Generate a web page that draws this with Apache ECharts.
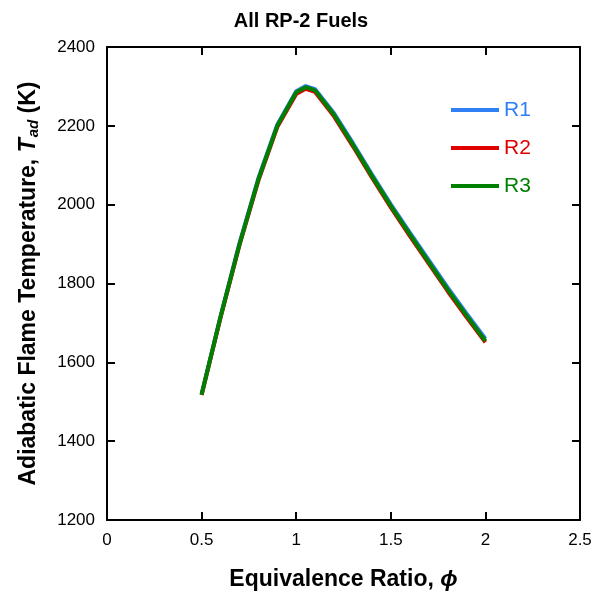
<!DOCTYPE html>
<html>
<head>
<meta charset="utf-8">
<script src="https://cdn.jsdelivr.net/npm/echarts@6/dist/echarts.min.js"></script>
<style>
  html, body { margin: 0; padding: 0; background: #fff; }
  #chart { width: 602px; height: 596px; }
</style>
</head>
<body>
<div id="chart"></div>
<script>
// equivalence ratio, phi
var phi = [0.5, 0.6, 0.7, 0.8, 0.9, 1.0, 1.05, 1.1, 1.2, 1.3, 1.4, 1.5, 1.6, 1.7, 1.8, 1.9, 2.0];
// adiabatic flame temperature (K)
var r1 = [1520, 1717, 1902, 2067, 2203, 2288, 2301, 2293, 2232, 2156, 2077, 2001, 1930, 1860, 1790, 1724, 1660];
var r2 = [1517, 1713, 1897, 2061, 2197, 2281, 2294, 2286, 2224, 2148, 2069, 1993, 1921, 1851, 1781, 1715, 1651];
var r3 = [1518, 1715, 1899, 2064, 2200, 2285, 2298, 2290, 2228, 2152, 2073, 1997, 1925, 1855, 1785, 1719, 1654];
var xTicks = [0, 0.5, 1, 1.5, 2, 2.5];
var yTicks = [1200, 1400, 1600, 1800, 2000, 2200, 2400];

var colors = { R1: '#2f80f5', R2: '#e00000', R3: '#008000' };
var font = 'Liberation Sans';

function pairs(xs, ys) {
  var out = [];
  for (var i = 0; i < xs.length; i++) out.push([xs[i], ys[i]]);
  return out;
}

function xLabel(v) {
  return xTicks.indexOf(v) >= 0 ? String(v) : '';
}
function yLabel(v) {
  return yTicks.indexOf(v) >= 0 ? String(v) : '';
}

function frameLine() {
  return { show: true, onZero: false, lineStyle: { color: '#000', width: 2 } };
}
function frameTick() {
  return { show: true, inside: true, length: 8, lineStyle: { color: '#000', width: 2 } };
}

var chart = echarts.init(document.getElementById('chart'));

chart.setOption({
  animation: false,
  title: {
    text: 'All RP-2 Fuels',
    left: 296,
    textAlign: 'center',
    top: 6,
    textStyle: { fontFamily: font, fontSize: 20, fontWeight: 'bold', color: '#000' }
  },
  legend: {
    orient: 'vertical',
    left: 446,
    top: 93,
    itemWidth: 48,
    itemHeight: 4,
    itemGap: 14,
    icon: 'rect',
    textStyle: { fontFamily: font, fontSize: 21, lineHeight: 24 },
    data: [
      { name: 'R1', textStyle: { color: colors.R1 } },
      { name: 'R2', textStyle: { color: colors.R2 } },
      { name: 'R3', textStyle: { color: colors.R3 } }
    ]
  },
  grid: { left: 107, right: 22, top: 47, bottom: 75 },
  xAxis: [
    {
      type: 'value',
      min: 0,
      max: 2.5,
      interval: 0.5,
      name: 'Equivalence Ratio, {i|ϕ}',
      nameLocation: 'middle',
      nameGap: 48,
      nameTextStyle: {
        fontFamily: font, fontSize: 23, fontWeight: 'bold', color: '#000',
        rich: { i: { fontFamily: font, fontSize: 23, fontWeight: 'bold', fontStyle: 'italic', color: '#000' } }
      },
      axisLine: frameLine(),
      axisTick: frameTick(),
      splitLine: { show: false },
      axisLabel: { color: '#000', fontFamily: font, fontSize: 17, margin: 12, formatter: xLabel }
    },
    {
      type: 'value',
      position: 'top',
      min: 0,
      max: 2.5,
      interval: 0.5,
      axisLine: frameLine(),
      axisTick: frameTick(),
      splitLine: { show: false },
      axisLabel: { show: false }
    }
  ],
  yAxis: [
    {
      type: 'value',
      min: 1200,
      max: 2400,
      interval: 200,
      name: 'Adiabatic Flame Temperature, {i|T}{s|ad} (K)',
      nameLocation: 'middle',
      nameGap: 66,
      nameTextStyle: {
        fontFamily: font, fontSize: 23, fontWeight: 'bold', color: '#000',
        rich: {
          i: { fontFamily: font, fontSize: 23, fontWeight: 'bold', fontStyle: 'italic', color: '#000' },
          s: { fontFamily: font, fontSize: 15, fontWeight: 'bold', fontStyle: 'italic', color: '#000', padding: [10, 0, 0, 1] }
        }
      },
      axisLine: frameLine(),
      axisTick: frameTick(),
      splitLine: { show: false },
      axisLabel: { color: '#000', fontFamily: font, fontSize: 17, margin: 12, formatter: yLabel }
    },
    {
      type: 'value',
      position: 'right',
      min: 1200,
      max: 2400,
      interval: 200,
      axisLine: frameLine(),
      axisTick: frameTick(),
      splitLine: { show: false },
      axisLabel: { show: false }
    }
  ],
  series: [
    { name: 'R1', type: 'line', data: pairs(phi, r1), showSymbol: false, color: colors.R1, lineStyle: { width: 4, color: colors.R1 } },
    { name: 'R2', type: 'line', data: pairs(phi, r2), showSymbol: false, color: colors.R2, lineStyle: { width: 4, color: colors.R2 } },
    { name: 'R3', type: 'line', data: pairs(phi, r3), showSymbol: false, color: colors.R3, lineStyle: { width: 4, color: colors.R3 } }
  ]
});
</script>
</body>
</html>
